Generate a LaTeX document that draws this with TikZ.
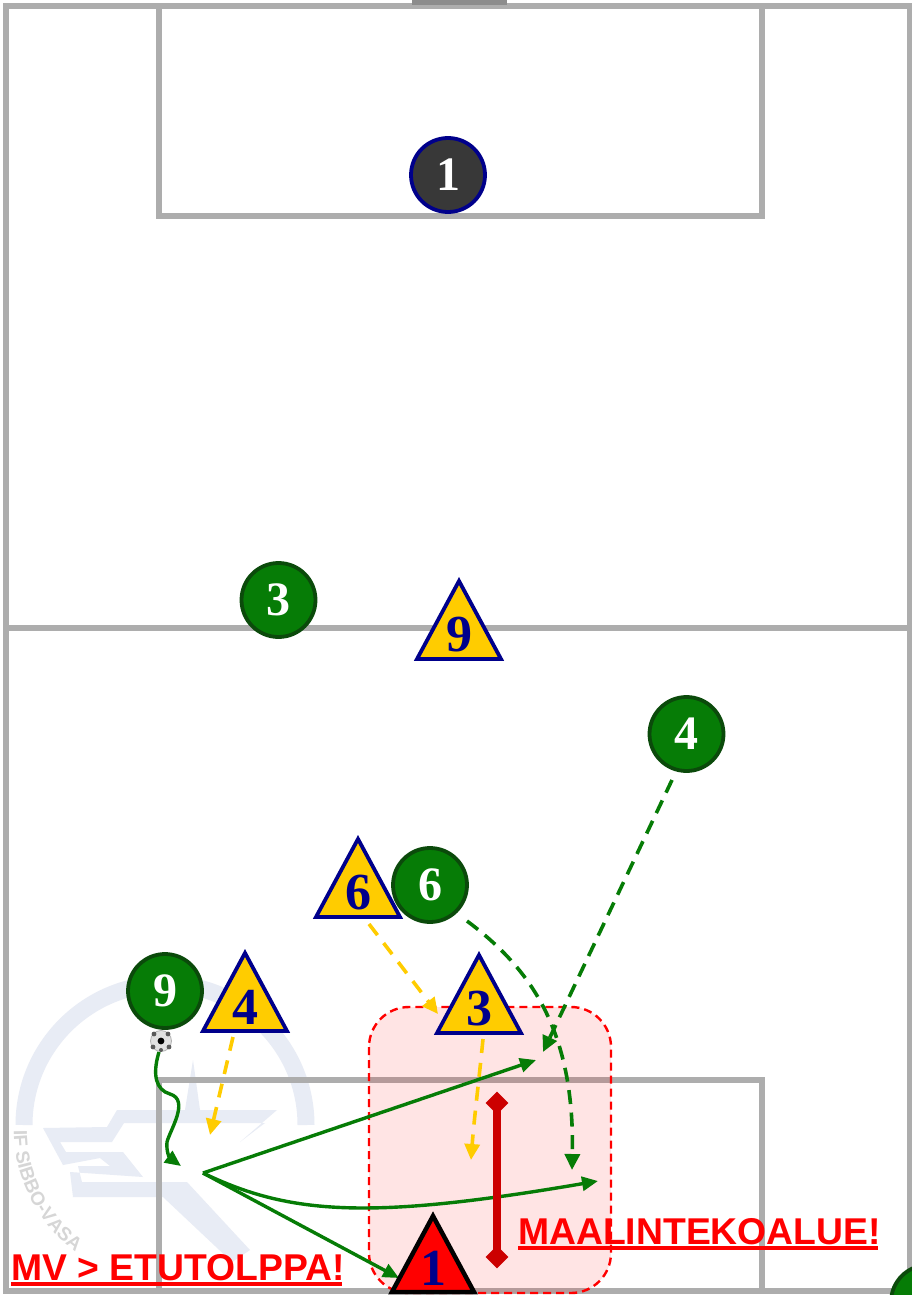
\documentclass[tikz,border=0pt]{standalone}
\usepackage{fontspec}
\setmainfont{Liberation Serif}
\newfontfamily\labelsans{Liberation Sans}
\usetikzlibrary{arrows.meta,decorations.text,shapes.geometric}
\definecolor{fieldgray}{HTML}{ADADAD}
\definecolor{pgreen}{HTML}{067C06}
\definecolor{dgreen}{HTML}{0B4A0B}
\definecolor{pnavy}{HTML}{00008B}
\definecolor{pyellow}{HTML}{FFCC00}
\definecolor{pred}{HTML}{FF0000}
\definecolor{dred}{HTML}{CC0000}
\definecolor{wm}{HTML}{E8ECF5}
\tikzset{
  x=1pt,y=-1pt,
  fieldline/.style={draw=fieldgray,line width=5.2pt},
  circ/.style={circle,minimum size=74pt,inner sep=0pt,line width=3.8pt,draw=dgreen,fill=pgreen,text=white,font=\fontsize{48}{48}\selectfont\bfseries},
  keeper/.style={circ,draw=pnavy,fill=black!78},
  trinum/.style={inner sep=0pt,text=pnavy,font=\fontsize{52}{52}\selectfont\bfseries},
  triline/.style={draw=pnavy,fill=pyellow,line width=3.8pt,line join=miter},
  redtri/.style={draw=black,fill=pred,line width=4.5pt,line join=miter},
  pass/.style={draw=pgreen,line width=3.4pt,-{Triangle[length=16pt,width=14pt]}},
  run/.style={draw=pgreen,line width=3.6pt,dash pattern=on 14pt off 8.6pt,-{Triangle[length=16pt,width=15pt]}},
  yrun/.style={draw=pyellow,line width=3.6pt,dash pattern=on 14pt off 10pt,-{Triangle[length=16pt,width=15pt]}},
  redlabel/.style={inner sep=0pt,anchor=base west,text=pred,font=\labelsans\fontsize{37.3}{38}\selectfont\bfseries},
  redrule/.style={draw=pred,line width=3.8pt},
  zone/.style={draw=pred,line width=2.4pt,dash pattern=on 8pt off 5pt,fill=pred,fill opacity=.105,rounded corners=40pt},
  wmline/.style={draw=wm,line width=17pt},
  wmfill/.style={fill=wm,draw=none},
}
\newcommand{\tri}[5][triline]{%
  \draw[#1] (#3,#4) -- ++(42,78) -- ++(-84,0) -- cycle;
  \node[trinum] (#2) at (#3,#4+54) {#5};
}
\begin{document}
\begin{tikzpicture}
\useasboundingbox (0,0) rectangle (912,1295);
\clip (0,0) rectangle (912,1295);
\fill[white] (0,0) rectangle (912,1295);
% watermark
\draw[wmline] (24,1125) arc (180:360:141);
\fill[wmfill] (43,1128) -- (107,1127) -- (117,1110) -- (277,1110) -- (240,1142) -- (265,1123) -- (185,1123) -- (157,1123) -- (124,1123) -- (112,1142) -- (60,1142) -- (66,1152) -- (123,1152) -- (143,1177) -- (70,1172) -- (73,1197) -- (163,1197) -- (232,1262) -- (250,1250) -- (187,1182) -- (82,1182) -- (78,1166) -- (110,1166) -- (100,1158) -- (63,1165) -- cycle;
\fill[wmfill] (193,1060) -- (200,1110) -- (185,1110) -- cycle;
\path[decorate,decoration={text along path,text align=left,text={|\labelsans\fontsize{19}{19}\selectfont\bfseries\color{black!16}|IF SIBBO-VASA}}] (14,1130) arc (180:122:151);
% field
\draw[fieldline] (6,6) rectangle (910,1291);
\draw[fieldline] (6,628) -- (910,628);
\draw[fieldline] (159,6) rectangle (762,216);
\draw[fieldline] (159,1291) -- (159,1080) -- (762,1080) -- (762,1291);
\fill[black!45] (412,0) rectangle (507,5);
% zone
\path[zone] (369,1007) rectangle (611,1293);
% free connector ends
\coordinate (ballout) at (159,1052);
\coordinate (dribbleend) at (181,1166);
\coordinate (passfrom) at (203,1173);
\coordinate (passA) at (536,1060);
\coordinate (passB) at (598,1181);
\coordinate (passC) at (399,1278);
\coordinate (run4from) at (672,780);
\coordinate (run4end) at (543,1052);
\coordinate (run6from) at (467,921);
\coordinate (run6end) at (572,1170);
\coordinate (y6from) at (369,924);
\coordinate (y6end) at (438,1014);
\coordinate (y4from) at (233,1037);
\coordinate (y4end) at (210,1135);
\coordinate (y3from) at (483,1039);
\coordinate (y3end) at (471,1160);
\coordinate (barT) at (497,1103);
\coordinate (barB) at (497,1257);
% players
\node[keeper] (gk) at (448,175) {\raisebox{-1.5pt}{1}};
\node[circ] (g3) at (278.5,600) {\raisebox{-1.5pt}{3}};
\node[circ] (g4) at (686.5,734) {\raisebox{-1.5pt}{4}};
\node[circ] (g6) at (430,885) {\raisebox{-1.5pt}{6}};
\node[circ] (g9) at (165,991) {\raisebox{-1.5pt}{9}};
\node[circ] (g2) at (928,1302) {};
\tri{y9}{459}{581}{9}
\tri{y6}{358}{839}{6}
\tri{y4}{245}{953}{4}
\tri{y3}{479}{955}{3}
% ball
\node[circle,minimum size=21pt,inner sep=0pt,draw=black!30,line width=.8pt,fill=black!12] (ball) at (161,1041) {};
\fill[black] (161,1041) circle (3.4);
\fill[black!65] (154,1034) circle (2.4) (168,1034) circle (2.4) (153,1047) circle (2.4) (169,1047) circle (2.4) (161,1050) circle (2);
% movement
\draw[yrun] (y6from) -- (y6end);
\draw[yrun] (y4from) -- (y4end);
\draw[yrun] (y3from) .. controls (479,1080) and (474,1120) .. (y3end);
\draw[run] (run4from) -- (run4end);
\draw[run] (run6from) .. controls (530,968) and (575,1030) .. (run6end);
\draw[pass] (ballout) .. controls (152,1075) and (156,1090) .. (170,1094) .. controls (190,1100) and (170,1130) .. (167,1142) .. controls (166,1152) and (170,1158) .. (dribbleend);
\draw[pass] (passfrom) -- (passA);
\draw[pass] (passfrom) .. controls (290,1215) and (370,1220) .. (passB);
\draw[pass] (passfrom) -- (passC);
% bar
\draw[draw=dred,line width=7.5pt] (barT) -- (barB);
\node[diamond,fill=dred,minimum size=23pt,inner sep=0pt] (barTop) at (barT) {};
\node[diamond,fill=dred,minimum size=23pt,inner sep=0pt] (barBot) at (barB) {};
% red triangle
\draw[redtri] (433,1216) -- (474,1292) -- (392,1292) -- cycle;
\node[trinum] (r1) at (433,1268) {1};
% labels
\node[redlabel] (lab1) at (518,1244) {MAALINTEKOALUE!};
\draw[redrule] (518,1248) -- (878,1248);
\node[redlabel] (lab2) at (11,1280) {MV > ETUTOLPPA!};
\draw[redrule] (11,1284) -- (342,1284);
\end{tikzpicture}
\end{document}
